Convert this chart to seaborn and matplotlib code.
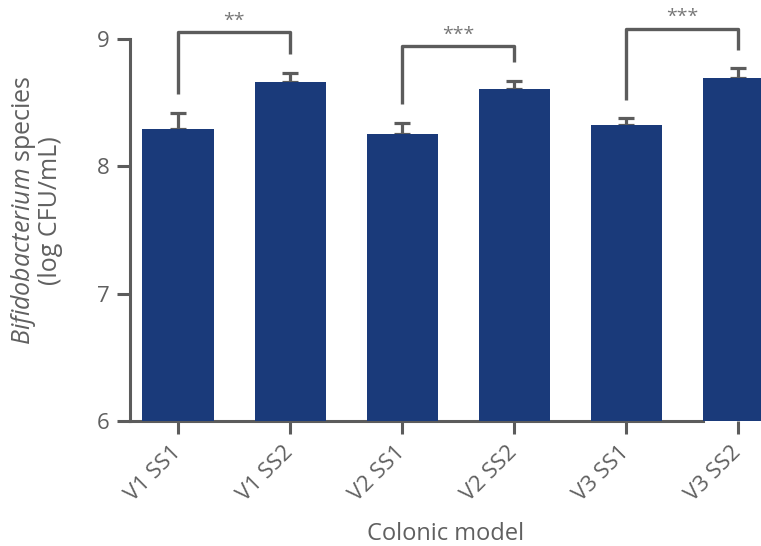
import numpy as np
import pandas as pd
import matplotlib
matplotlib.use('Agg')
import matplotlib.pyplot as plt
import seaborn as sns

# values
groups = ['V1 SS1', 'V1 SS2', 'V2 SS1', 'V2 SS2', 'V3 SS1', 'V3 SS2']
means = [8.29, 8.66, 8.25, 8.61, 8.32, 8.69]
errs = [0.13, 0.07, 0.09, 0.06, 0.06, 0.08]

# significance brackets
pairs = [(0, 1), (2, 3), (4, 5)]
bracket_top = [9.05, 8.94, 9.08]
left_leg = [8.57, 8.49, 8.52]
right_leg = [8.88, 8.82, 8.91]
stars = ['**', '***', '***']

df = pd.DataFrame({'group': groups, 'mean': means})

sns.set_theme(style='ticks')
plt.rcParams['font.family'] = ['Open Sans', 'DejaVu Sans']
plt.rcParams['mathtext.fontset'] = 'custom'
plt.rcParams['mathtext.it'] = 'Open Sans:italic'
plt.rcParams['mathtext.rm'] = 'Open Sans'

grey = '#5c5c5c'
txt = '#606060'
navy = '#1a3a7a'

fig = plt.figure(figsize=(7.61, 5.46), dpi=100)
ax = fig.add_axes([130 / 761, 1 - 421 / 546, 1 - 130 / 761, 421 / 546])

sns.barplot(data=df, x='group', y='mean', color=navy, saturation=1,
            width=0.634, errorbar=None, ax=ax, zorder=3, linewidth=0)
ax.errorbar(np.arange(len(groups)), means, yerr=[np.zeros(len(errs)), errs],
            fmt='none', ecolor=grey, elinewidth=2.3, capsize=5.5, capthick=2.3,
            zorder=2)

ax.set_ylim(6, 9.305)
ax.set_xlim(-0.4286, 5.205)
ax.set_yticks([6, 7, 8, 9])

for sp in ['top', 'right']:
    ax.spines[sp].set_visible(False)
for sp in ['left', 'bottom']:
    ax.spines[sp].set_color(grey)
    ax.spines[sp].set_linewidth(2.2)
ax.spines['left'].set_bounds(6, 9)
ax.spines['bottom'].set_bounds(-0.4286, 4.69)

ax.tick_params(axis='both', colors=grey, width=2.2, length=9.5, direction='out')
ax.tick_params(axis='y', labelsize=16, labelcolor=txt, pad=5)
ax.tick_params(axis='x', labelsize=16, labelcolor=txt, pad=11)
plt.setp(ax.get_xticklabels(), rotation=45, ha='right', va='center',
         rotation_mode='anchor')

ax.set_xlabel('Colonic model', fontsize=17, color=txt, labelpad=12)
ax.set_ylabel(r'$\it{Bifidobacterium}$ species' + '\n(log CFU/mL)',
              fontsize=18, color=txt, linespacing=1.0)
ax.yaxis.set_label_coords(-0.106, 0.50)

for (a, b), top, ll, rl, s in zip(pairs, bracket_top, left_leg, right_leg, stars):
    ax.plot([a, a, b, b], [ll, top, top, rl], color=grey, lw=2.4,
            clip_on=False, solid_capstyle='butt', zorder=4)
    ax.text((a + b) / 2, top + 0.02, s, ha='center', va='bottom',
            fontsize=14, color='#777777', clip_on=False)

fig.savefig('out.png', dpi=100)
